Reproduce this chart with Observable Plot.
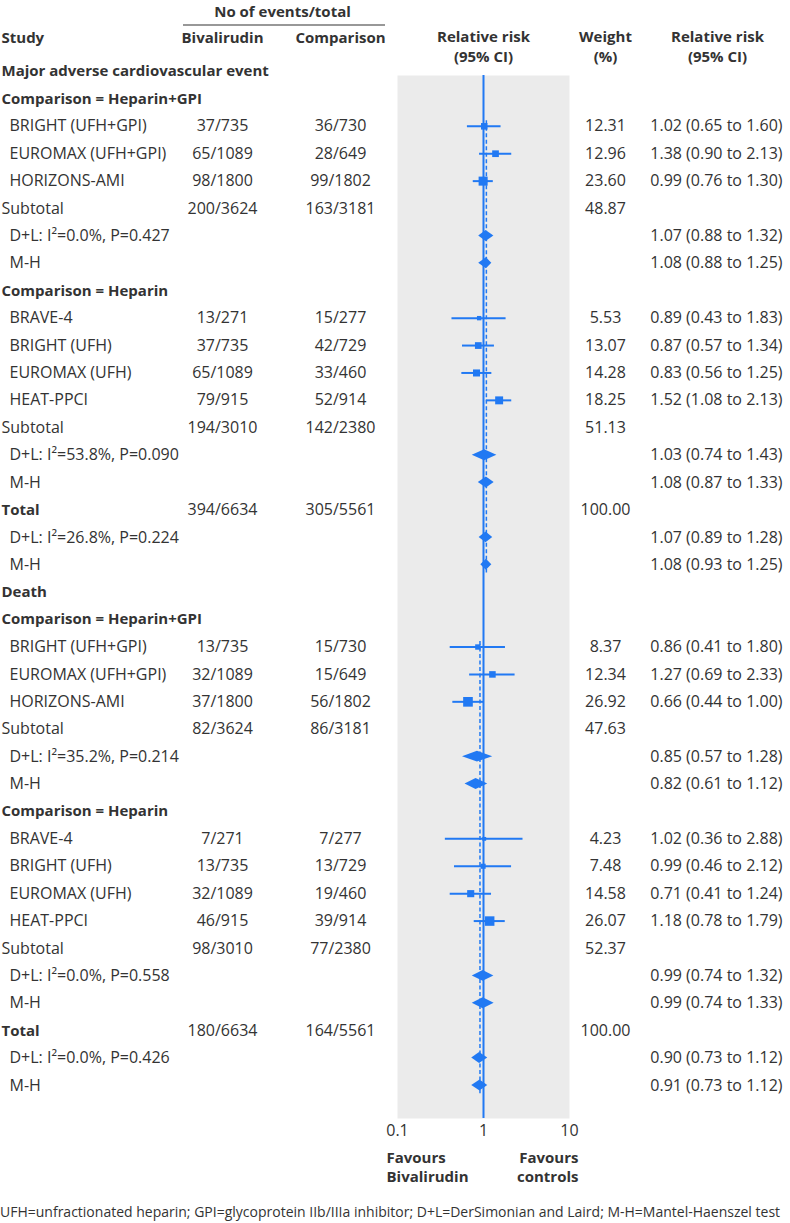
<!DOCTYPE html>
<html>
<head>
<meta charset="utf-8">
<script src="https://cdn.jsdelivr.net/npm/d3@7"></script>
<script src="https://cdn.jsdelivr.net/npm/@observablehq/plot@0.6"></script>
<style>
  html, body { margin: 0; padding: 0; background: #fff; }
  #chart svg { display: block; }
  #caption { font-family: "Open Sans", sans-serif; font-size: 14px; color: #333; height: 23px; line-height: 23px; white-space: nowrap; }
</style>
</head>
<body>
<div id="chart"></div>
<div id="caption">UFH=unfractionated heparin; GPI=glycoprotein IIb/IIIa inhibitor; D+L=DerSimonian and Laird; M-H=Mantel-Haenszel test</div>
<script>
// ---- Data ----
// kinds: "h" = bold heading, "s" = study, "sub" = subtotal, "tot" = total (bold), "p" = pooled estimate
const rowLabels = [
  "Major adverse cardiovascular event", "Comparison = Heparin+GPI",
  "BRIGHT (UFH+GPI)", "EUROMAX (UFH+GPI)", "HORIZONS-AMI", "Subtotal",
  "D+L: I²=0.0%, P=0.427", "M-H",
  "Comparison = Heparin",
  "BRAVE-4", "BRIGHT (UFH)", "EUROMAX (UFH)", "HEAT-PPCI", "Subtotal",
  "D+L: I²=53.8%, P=0.090", "M-H",
  "Total", "D+L: I²=26.8%, P=0.224", "M-H",
  "Death", "Comparison = Heparin+GPI",
  "BRIGHT (UFH+GPI)", "EUROMAX (UFH+GPI)", "HORIZONS-AMI", "Subtotal",
  "D+L: I²=35.2%, P=0.214", "M-H",
  "Comparison = Heparin",
  "BRAVE-4", "BRIGHT (UFH)", "EUROMAX (UFH)", "HEAT-PPCI", "Subtotal",
  "D+L: I²=0.0%, P=0.558", "M-H",
  "Total", "D+L: I²=0.0%, P=0.426", "M-H"
];
const rowKinds = [
  "h", "h", "s", "s", "s", "sub", "p", "p",
  "h", "s", "s", "s", "s", "sub", "p", "p",
  "tot", "p", "p",
  "h", "h", "s", "s", "s", "sub", "p", "p",
  "h", "s", "s", "s", "s", "sub", "p", "p",
  "tot", "p", "p"
];
const bivalirudin = [
  "", "", "37/735", "65/1089", "98/1800", "200/3624", "", "",
  "", "13/271", "37/735", "65/1089", "79/915", "194/3010", "", "",
  "394/6634", "", "",
  "", "", "13/735", "32/1089", "37/1800", "82/3624", "", "",
  "", "7/271", "13/735", "32/1089", "46/915", "98/3010", "", "",
  "180/6634", "", ""
];
const comparison = [
  "", "", "36/730", "28/649", "99/1802", "163/3181", "", "",
  "", "15/277", "42/729", "33/460", "52/914", "142/2380", "", "",
  "305/5561", "", "",
  "", "", "15/730", "15/649", "56/1802", "86/3181", "", "",
  "", "7/277", "13/729", "19/460", "39/914", "77/2380", "", "",
  "164/5561", "", ""
];
const weights = [
  null, null, 12.31, 12.96, 23.60, 48.87, null, null,
  null, 5.53, 13.07, 14.28, 18.25, 51.13, null, null,
  100.00, null, null,
  null, null, 8.37, 12.34, 26.92, 47.63, null, null,
  null, 4.23, 7.48, 14.58, 26.07, 52.37, null, null,
  100.00, null, null
];
const estimate = [
  null, null, 1.02, 1.38, 0.99, null, 1.07, 1.08,
  null, 0.89, 0.87, 0.83, 1.52, null, 1.03, 1.08,
  null, 1.07, 1.08,
  null, null, 0.86, 1.27, 0.66, null, 0.85, 0.82,
  null, 1.02, 0.99, 0.71, 1.18, null, 0.99, 0.99,
  null, 0.90, 0.91
];
const lower = [
  null, null, 0.65, 0.90, 0.76, null, 0.88, 0.88,
  null, 0.43, 0.57, 0.56, 1.08, null, 0.74, 0.87,
  null, 0.89, 0.93,
  null, null, 0.41, 0.69, 0.44, null, 0.57, 0.61,
  null, 0.36, 0.46, 0.41, 0.78, null, 0.74, 0.74,
  null, 0.73, 0.73
];
const upper = [
  null, null, 1.60, 2.13, 1.30, null, 1.32, 1.25,
  null, 1.83, 1.34, 1.25, 2.13, null, 1.43, 1.33,
  null, 1.28, 1.25,
  null, null, 1.80, 2.33, 1.00, null, 1.28, 1.12,
  null, 2.88, 2.12, 1.24, 1.79, null, 1.32, 1.33,
  null, 1.12, 1.12
];
const xTicks = [0.1, 1, 10];
const favoursLeft = ["Favours", "Bivalirudin"];
const favoursRight = ["Favours", "controls"];
// overall (M-H) lines per outcome: [overall row, first study row]
const overallRows = [[18, 2], [37, 21]];

// ---- Build ----
const rows = rowLabels.map((label, i) => ({
  i, label, kind: rowKinds[i], biv: bivalirudin[i], comp: comparison[i],
  w: weights[i], est: estimate[i], lo: lower[i], hi: upper[i]
}));
const studies = rows.filter(d => d.kind === "s");
const pooled = rows.filter(d => d.kind === "p");
const H = 0.2; // diamond half height in row units
const diamonds = pooled.flatMap(d => [
  {id: d.i, y: d.i - H, x1: d.est, x2: d.est},
  {id: d.i, y: d.i, x1: d.lo, x2: d.hi},
  {id: d.i, y: d.i + H, x1: d.est, x2: d.est}
]);
const overall = overallRows.map(([r, first]) => ({x: estimate[r], y1: first - 0.2, y2: r + 0.3}));

const blue = "#2179f3";
const ink = "#333333";
const fs = 16, fsb = 15;
const mL = 397, mR = 221, W = 790, frameTop = 75, frameBottom = 1118, SVGH = 1200;
const fmt2 = v => v.toFixed(2);

const isBold = d => d.kind === "h" || d.kind === "tot";
const isIndent = d => d.kind === "s" || d.kind === "p";

const header = (txt, cx, cy, opts = {}) => Plot.text([txt], {
  text: d => d, frameAnchor: "top-left", dx: cx - mL, dy: cy - frameTop,
  textAnchor: "middle", lineAnchor: "middle", fontSize: fsb, fontWeight: "bold", fill: ink, ...opts
});
const favText = (lines, anchor, xpos) => lines.map((t, k) => Plot.text([t], {
  text: d => d, frameAnchor: anchor === "start" ? "bottom-left" : "bottom-right",
  textAnchor: anchor, lineAnchor: "middle",
  dx: anchor === "start" ? xpos - mL : xpos - (W - mR), dy: (1158 + 19 * k) - frameBottom,
  fontSize: fsb, fontWeight: "bold", fill: ink
}));

const chart = Plot.plot({
  width: W, height: SVGH,
  marginLeft: mL, marginRight: mR, marginTop: frameTop, marginBottom: SVGH - frameBottom,
  style: {fontFamily: "'Open Sans', sans-serif", fontSize: "16px", color: ink, background: "white"},
  x: {type: "log", domain: [0.1, 10], axis: null},
  y: {type: "linear", domain: [0, 37], range: [71, 1085], axis: null},
  r: {type: "sqrt", domain: [0, 100], range: [0, 10.5]},
  marks: [
    Plot.frame({fill: "#ebebeb", stroke: null}),
    Plot.ruleX(overall, {x: "x", y1: "y1", y2: "y2", stroke: blue, strokeWidth: 1.5, strokeDasharray: "4,2.5"}),
    Plot.ruleX([1], {stroke: blue, strokeWidth: 2}),
    Plot.ruleY(studies, {y: "i", x1: "lo", x2: "hi", stroke: blue, strokeWidth: 2}),
    Plot.dot(studies, {x: "est", y: "i", r: "w", symbol: "square", fill: blue, stroke: null}),
    Plot.areaX(diamonds, {y: "y", x1: "x1", x2: "x2", z: "id", fill: blue, curve: "linear"}),
    Plot.axisX(xTicks, {ticks: xTicks, tickSize: 0, tickPadding: 6, tickFormat: d => String(d), fontSize: fs, fill: ink, label: null}),
    // row labels: bold headings / totals
    Plot.text(rows.filter(isBold), {y: "i", text: "label", frameAnchor: "left", textAnchor: "start",
      dx: 1 - mL, fontSize: fsb, fontWeight: "bold", fill: ink}),
    // subtotal
    Plot.text(rows.filter(d => d.kind === "sub"), {y: "i", text: "label", frameAnchor: "left", textAnchor: "start",
      dx: 1 - mL, fontSize: fs, fill: ink}),
    // indented study / pooled labels
    Plot.text(rows.filter(isIndent), {y: "i", text: "label", frameAnchor: "left", textAnchor: "start",
      dx: 9 - mL, fontSize: fs, fill: ink}),
    // events columns
    Plot.text(rows.filter(d => d.biv), {y: "i", text: "biv", frameAnchor: "left", textAnchor: "middle", dx: 222 - mL, fontSize: fs, fill: ink}),
    Plot.text(rows.filter(d => d.comp), {y: "i", text: "comp", frameAnchor: "left", textAnchor: "middle", dx: 340 - mL, fontSize: fs, fill: ink}),
    // weight
    Plot.text(rows.filter(d => d.w != null), {y: "i", text: d => fmt2(d.w), frameAnchor: "right", textAnchor: "middle", dx: 605 - (W - mR), fontSize: fs, fill: ink}),
    // relative risk text
    Plot.text(rows.filter(d => d.est != null), {y: "i", text: d => `${fmt2(d.est)} (${fmt2(d.lo)} to ${fmt2(d.hi)})`,
      frameAnchor: "right", textAnchor: "end", dx: 782 - (W - mR), fontSize: fs, fill: ink}),
    // headers
    header("No of events/total", 282, 12),
    header("Study", 1, 38, {textAnchor: "start"}),
    header("Bivalirudin", 222, 38),
    header("Comparison", 340, 38),
    header("Relative risk", 483, 37),
    header("(95% CI)", 483, 57),
    header("Weight", 605, 37),
    header("(%)", 605, 57),
    header("Relative risk", 717, 37),
    header("(95% CI)", 717, 57),
    // favours
    ...favText(favoursLeft, "start", 386),
    ...favText(favoursRight, "end", 578)
  ]
});

// underline beneath the "No of events/total" column group header
d3.select(chart).append("line")
  .attr("x1", 183).attr("x2", 385).attr("y1", 25).attr("y2", 25)
  .attr("stroke", ink).attr("stroke-width", 1.2);
document.getElementById("chart").appendChild(chart);
</script>
</body>
</html>
